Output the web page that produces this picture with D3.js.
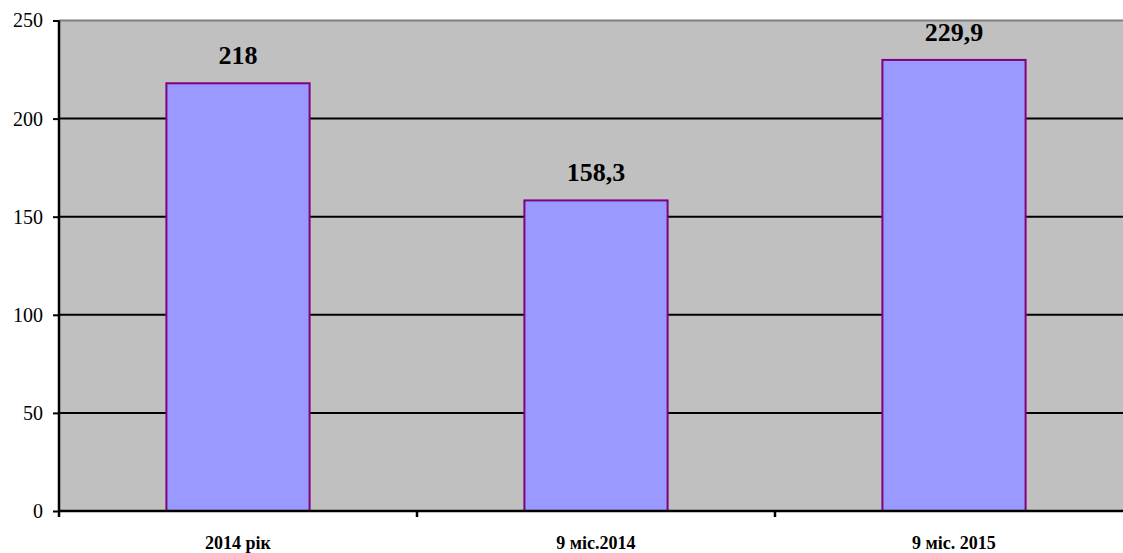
<!DOCTYPE html>
<html>
<head>
<meta charset="utf-8">
<script src="https://cdnjs.cloudflare.com/ajax/libs/d3/7.8.5/d3.min.js"></script>
<style>
html,body{margin:0;padding:0;background:#fff;}
svg{display:block;}
svg text{font-family:"Liberation Serif","Times New Roman",serif;}
</style>
</head>
<body>
<svg id="chart" width="1123" height="553"></svg>
<script>
const categories = ["2014 рік", "9 міс.2014", "9 міс. 2015"];
const values = [218, 158.3, 229.9];
const valueLabels = ["218", "158,3", "229,9"];
const yTicks = [0, 50, 100, 150, 200, 250];

const svg = d3.select("#chart");
const pLeft = 59, pRight = 1133, pTop = 20.5, pBottom = 511;

const x = d3.scaleBand().domain(categories).range([pLeft, pRight]).paddingInner(0.6).paddingOuter(0.3);
const xOuter = d3.scaleBand().domain(categories).range([pLeft, pRight]).padding(0);
const y = d3.scaleLinear().domain([0, 250]).range([pBottom, pTop]);

svg.append("rect").attr("x", pLeft).attr("y", pTop).attr("width", pRight - pLeft).attr("height", pBottom - pTop).attr("fill", "#C0C0C0");

svg.append("line").attr("x1", pLeft).attr("x2", pRight).attr("y1", y(250)).attr("y2", y(250)).attr("stroke", "#808080").attr("stroke-width", 2);

svg.selectAll(".grid").data(yTicks.filter(d => d > 0 && d < 250)).enter().append("line")
  .attr("x1", pLeft).attr("x2", pRight)
  .attr("y1", d => y(d)).attr("y2", d => y(d))
  .attr("stroke", "#000").attr("stroke-width", 2);

svg.selectAll(".bar").data(values).enter().append("rect")
  .attr("x", (d, i) => x(categories[i]))
  .attr("y", d => y(d))
  .attr("width", x.bandwidth())
  .attr("height", d => pBottom - y(d))
  .attr("fill", "#9999FF")
  .attr("stroke", "#800080")
  .attr("stroke-width", 2);

const yAxis = d3.axisLeft(y).tickValues(yTicks).tickSize(6).tickPadding(10).tickFormat(d3.format("d"));
const gy = svg.append("g").attr("transform", `translate(${pLeft},0)`).call(yAxis);
gy.select(".domain").attr("stroke", "#000").attr("stroke-width", 2.5).attr("d", `M0,${pTop}V${pBottom + 6}`);
gy.selectAll(".tick line").attr("stroke", "#000").attr("stroke-width", 2);
gy.selectAll(".tick text").attr("font-size", 20).attr("fill", "#000");

const xAxis = d3.axisBottom(xOuter).tickValues(categories.slice(1)).tickSize(6).tickFormat("");
const gx = svg.append("g").attr("transform", `translate(0,${pBottom})`).call(xAxis);
gx.select(".domain").attr("stroke", "#000").attr("stroke-width", 2.5).attr("d", `M${pLeft},0H${pRight}`);
gx.selectAll(".tick").attr("transform", d => `translate(${xOuter(d)},0)`);
gx.selectAll(".tick line").attr("stroke", "#000").attr("stroke-width", 2.5);

svg.selectAll(".xl").data(categories).enter().append("text")
  .attr("class", "xl")
  .attr("x", d => x(d) + x.bandwidth() / 2)
  .attr("y", 549)
  .attr("text-anchor", "middle")
  .attr("font-weight", "bold")
  .attr("font-size", 18)
  .attr("fill", "#000")
  .text(d => d);

svg.selectAll(".vl").data(values).enter().append("text")
  .attr("class", "vl")
  .attr("x", (d, i) => x(categories[i]) + x.bandwidth() / 2)
  .attr("y", d => y(d) - 19)
  .attr("text-anchor", "middle")
  .attr("font-weight", "bold")
  .attr("font-size", 26)
  .attr("fill", "#000")
  .text((d, i) => valueLabels[i]);
</script>
</body>
</html>
